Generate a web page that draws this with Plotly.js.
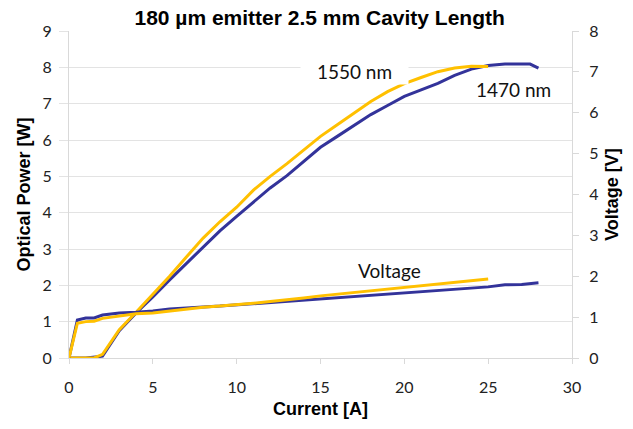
<!DOCTYPE html>
<html>
<head>
<meta charset="utf-8">
<script src="https://cdn.plot.ly/plotly-3.0.1.min.js"></script>
<style>html,body{margin:0;padding:0;background:#fff;}#chart{width:633px;height:429px;}</style>
</head>
<body>
<div id="chart"></div>
<script>
// Optical power, 1470 nm (blue)
var current1470 = [0, 1, 2, 2.5, 3, 4, 5, 6, 7, 8, 9, 10, 11, 12, 13, 14, 15, 16, 17, 18, 19, 20, 21, 22, 23, 24, 25, 26, 27, 27.5, 28];
var power1470   = [0, 0, 0.05, 0.4, 0.75, 1.24, 1.68, 2.15, 2.6, 3.05, 3.5, 3.9, 4.3, 4.68, 5.02, 5.42, 5.8, 6.1, 6.4, 6.7, 6.95, 7.2, 7.38, 7.56, 7.78, 7.95, 8.05, 8.09, 8.09, 8.09, 7.98];
// Optical power, 1550 nm (yellow)
var current1550 = [0, 1, 1.5, 2, 2.5, 3, 4, 5, 6, 7, 8, 9, 10, 11, 12, 13, 14, 15, 16, 17, 18, 19, 20, 21, 22, 23, 24, 25];
var power1550   = [0, 0, 0, 0.1, 0.45, 0.78, 1.26, 1.75, 2.25, 2.78, 3.3, 3.75, 4.15, 4.62, 5.0, 5.35, 5.72, 6.1, 6.42, 6.75, 7.06, 7.33, 7.55, 7.72, 7.88, 7.98, 8.03, 8.02];
// Voltage, 1470 nm (blue)
var currentV1470 = [0, 0.5, 1, 1.5, 2, 3, 4, 5, 6, 7, 8, 9, 10, 11, 12, 13, 14, 15, 16, 17, 18, 19, 20, 21, 22, 23, 24, 25, 26, 27, 28];
var voltage1470  = [0, 0.93, 0.98, 0.98, 1.05, 1.1, 1.12, 1.15, 1.2, 1.23, 1.25, 1.27, 1.3, 1.33, 1.36, 1.39, 1.41, 1.44, 1.47, 1.5, 1.53, 1.57, 1.6, 1.63, 1.66, 1.68, 1.71, 1.74, 1.79, 1.8, 1.84];
// Voltage, 1550 nm (yellow)
var currentV1550 = [0, 0.5, 1, 1.5, 2, 3, 4, 5, 6, 7, 8, 9, 10, 11, 12, 13, 14, 15, 16, 17, 18, 19, 20, 21, 22, 23, 24, 25];
var voltage1550  = [0, 0.85, 0.89, 0.9, 0.97, 1.03, 1.08, 1.1, 1.15, 1.2, 1.24, 1.27, 1.3, 1.34, 1.38, 1.42, 1.47, 1.52, 1.56, 1.6, 1.64, 1.68, 1.72, 1.76, 1.8, 1.84, 1.88, 1.93];

var blue = '#33339a', yellow = '#ffc000';
var tickFont = {family: 'Lato, "Open Sans", sans-serif', size: 16, color: '#222'};
var titleFont = {family: '"Liberation Sans", Arial, sans-serif', size: 18, color: '#000'};
var annFont = {family: 'Lato, "Open Sans", sans-serif', size: 19, color: '#111'};

var traces = [
  {x: current1470, y: power1470, mode: 'lines', line: {color: blue, width: 3}, yaxis: 'y', name: '1470 nm'},
  {x: current1550, y: power1550, mode: 'lines', line: {color: yellow, width: 3}, yaxis: 'y', name: '1550 nm'},
  {x: currentV1470, y: voltage1470, mode: 'lines', line: {color: blue, width: 3}, yaxis: 'y2', name: 'V 1470'},
  {x: currentV1550, y: voltage1550, mode: 'lines', line: {color: yellow, width: 3}, yaxis: 'y2', name: 'V 1550'}
];

var layout = {
  width: 633, height: 429,
  margin: {l: 69, r: 61, t: 31, b: 71, pad: 0},
  paper_bgcolor: '#fff', plot_bgcolor: '#fff',
  showlegend: false,
  title: {text: '<b>180 µm emitter 2.5 mm Cavity Length</b>', font: {family: '"Liberation Sans", Arial, sans-serif', size: 21, color: '#000'}, x: 0.505, xanchor: 'center', y: 0.958, yanchor: 'middle'},
  xaxis: {
    range: [0, 30], dtick: 5, tick0: 0, showgrid: false, zeroline: false,
    showline: true, linecolor: '#d9d9d9', linewidth: 1,
    ticks: 'outside', ticklen: 5, tickcolor: '#d9d9d9',
    tickfont: tickFont, ticklabelstandoff: 10,
    title: {text: '<b>Current [A]</b>', font: titleFont, standoff: 7}
  },
  yaxis: {
    range: [0, 9], dtick: 1, tick0: 0, showgrid: true, gridcolor: '#e3e3e3', gridwidth: 1, zeroline: false,
    showline: true, linecolor: '#d9d9d9', linewidth: 1,
    ticks: 'outside', ticklen: 9, tickcolor: '#e3e3e3',
    tickfont: tickFont, ticklabelstandoff: 4,
    title: {text: '<b>Optical Power [W]</b>', font: titleFont, standoff: 7}
  },
  yaxis2: {
    range: [0, 8], dtick: 1, tick0: 0, overlaying: 'y', side: 'right', showgrid: false, zeroline: false,
    showline: true, linecolor: '#d9d9d9', linewidth: 1,
    ticks: 'outside', ticklen: 6, tickcolor: '#d9d9d9',
    tickfont: tickFont, ticklabelstandoff: 7,
    title: {text: '<b>Voltage [V]</b>', font: titleFont, standoff: 7}
  },
  annotations: [
    {x: 17.05, y: 7.88, xref: 'x', yref: 'y', text: '1550 nm', showarrow: false, font: annFont, bgcolor: '#fff', width: 105, xanchor: 'center', yanchor: 'middle'},
    {x: 26.5, y: 7.38, xref: 'x', yref: 'y', text: '1470 nm', showarrow: false, font: annFont, xanchor: 'center', yanchor: 'middle'},
    {x: 19.1, y: 2.4, xref: 'x', yref: 'y', text: 'Voltage', showarrow: false, font: annFont, xanchor: 'center', yanchor: 'middle'}
  ]
};

Plotly.newPlot('chart', traces, layout, {displayModeBar: false, staticPlot: true});
</script>
</body>
</html>
